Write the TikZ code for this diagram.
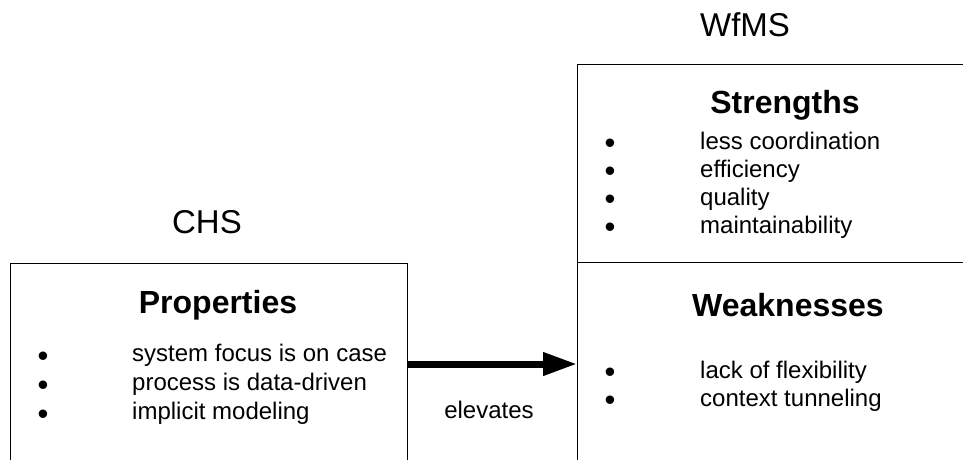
\documentclass[tikz,border=0pt]{standalone}
\usepackage{fontspec}
\setmainfont{Liberation Sans}
\usetikzlibrary{positioning, arrows.meta}

\begin{document}
\begin{tikzpicture}
	[x=1pt, y=-1pt, on grid, node distance=29pt,
	 box/.style={draw, line width=1.4pt, anchor=north west, inner sep=0pt},
	 title/.style={font=\fontsize{33}{40}\selectfont},
	 head/.style={font=\bfseries\fontsize{32}{38}\selectfont},
	 item/.style={anchor=west, inner sep=0pt, text height=17pt, text depth=5pt,
	   font=\fontsize{24}{29}\selectfont},
	 bullet/.style={inner sep=0pt, text height=22pt, text depth=2pt,
	   font=\fontsize{31}{36}\selectfont}]
   \useasboundingbox (0,0) rectangle (963,459);
   \clip (0,0) rectangle (963,459);
   % boxes
   \node[box, minimum width=397pt, minimum height=220pt] (chsbox) at (10,263) {};
   \node[box, minimum width=410pt, minimum height=198pt] (sbox) at (577,64) {};
   \node[box, minimum width=410pt, minimum height=220pt] (wbox) at (577,262) {};
   \node[title] (chs) at (207,222) {CHS};
   \node[title] (wfms) at (745,25) {WfMS};
   % CHS properties
   \node[head] (props) at (218,305) {Properties};
   \node[item] (p_1) at (132,355) {system focus is on case};
   \node[item] (p_2) [below=of p_1.west, anchor=west] {process is data-driven};
   \node[item] (p_3) [below=of p_2.west, anchor=west] {implicit modeling};
   \node[bullet] (pb_1) at (43,356) {•};
   \node[bullet] (pb_2) [below=of pb_1] {•};
   \node[bullet] (pb_3) [below=of pb_2] {•};
   % WfMS strengths
   \node[head] (strong) at (785,105) {Strengths};
   \node[item] (s_1) at (700,143) {less coordination};
   \node[item] (s_2) [below=28pt of s_1.west, anchor=west] {efficiency};
   \node[item] (s_3) [below=28pt of s_2.west, anchor=west] {quality};
   \node[item] (s_4) [below=28pt of s_3.west, anchor=west] {maintainability};
   \node[bullet] (sb_1) at (610,143) {•};
   \node[bullet] (sb_2) [below=28pt of sb_1] {•};
   \node[bullet] (sb_3) [below=28pt of sb_2] {•};
   \node[bullet] (sb_4) [below=28pt of sb_3] {•};
   % WfMS weaknesses
   \node[head] (weak) at (788,305) {Weaknesses};
   \node[item] (w_1) at (700,372) {lack of flexibility};
   \node[item] (w_2) [below=28pt of w_1.west, anchor=west] {context tunneling};
   \node[bullet] (wb_1) at (610,372) {•};
   \node[bullet] (wb_2) [below=28pt of wb_1] {•};
   % arrow
   \coordinate (mid) at (490,364);
   \draw[line width=7pt, -{Triangle[length=34pt,width=22pt]}]
     (chsbox.east |- mid) -- (wbox.west |- mid);
   \node[font=\fontsize{24}{29}\selectfont] (elev) at (489,410) {elevates};
\end{tikzpicture}
\end{document}
